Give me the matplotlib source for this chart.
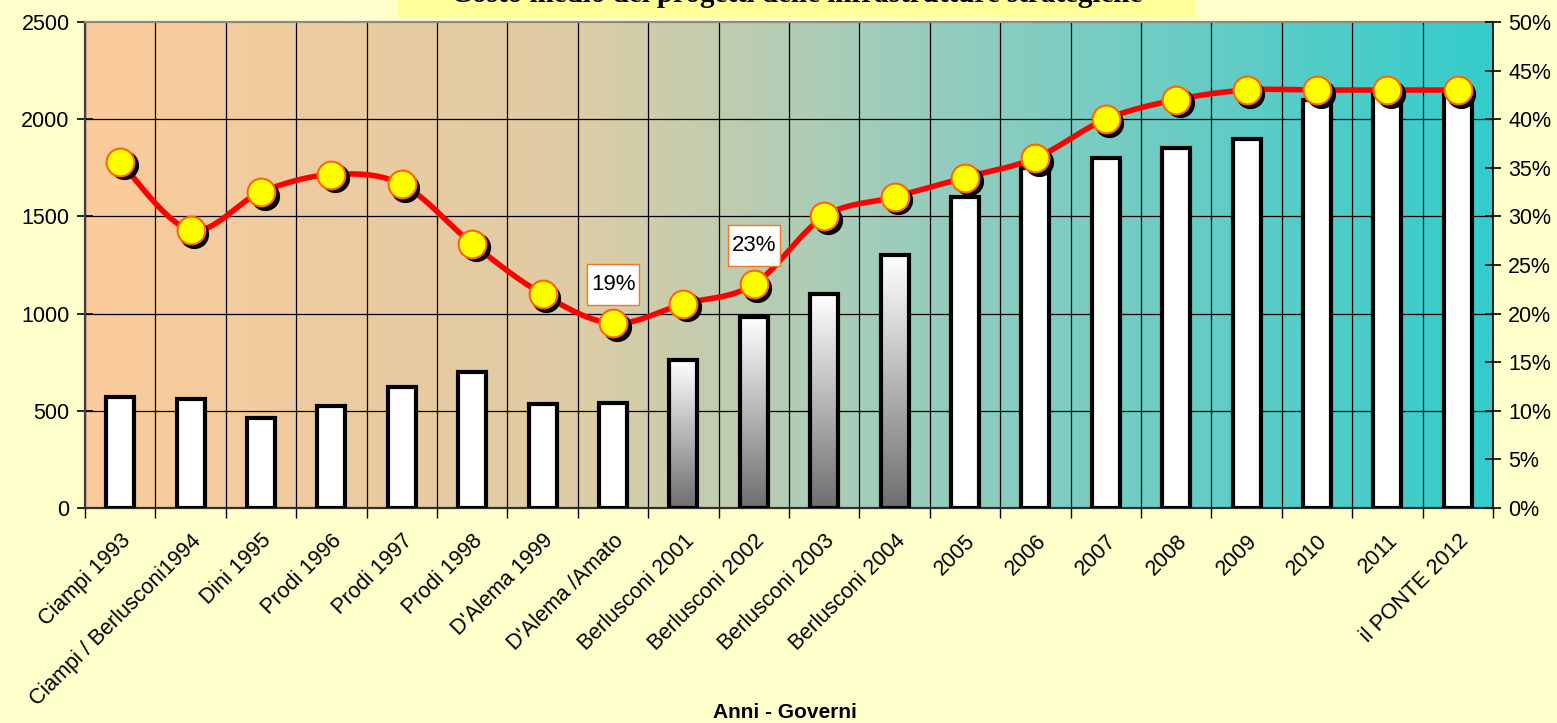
import numpy as np
import matplotlib
matplotlib.use('Agg')
import matplotlib.pyplot as plt
from matplotlib.transforms import offset_copy, IdentityTransform
from matplotlib.colors import LinearSegmentedColormap
from matplotlib.patches import Rectangle

# ---------------- data ----------------
categories = ['Ciampi 1993', 'Ciampi / Berlusconi1994', 'Dini 1995', 'Prodi 1996',
              'Prodi 1997', 'Prodi 1998', "D'Alema 1999", "D'Alema /Amato",
              'Berlusconi 2001', 'Berlusconi 2002', 'Berlusconi 2003', 'Berlusconi 2004',
              '2005', '2006', '2007', '2008', '2009', '2010', '2011', 'il PONTE 2012']
projects = [570, 560, 465, 525, 625, 700, 535, 540, 760, 985, 1100, 1300,
            1600, 1750, 1800, 1850, 1900, 2100, 2130, 2130]
share_pct = [35.6, 28.6, 32.5, 34.3, 33.3, 27.2, 22.0, 19.0, 21.0, 23.0, 30.0, 32.0,
             34.0, 36.0, 40.0, 42.0, 43.0, 43.0, 43.0, 43.0]
gradient_bar_idx = [8, 9, 10, 11]
labelled_idx = [7, 9]
left_ticks = [0, 500, 1000, 1500, 2000, 2500]
right_ticks = [0, 5, 10, 15, 20, 25, 30, 35, 40, 45, 50]
title_text = 'Costo medio dei progetti delle infrastrutture strategiche'
xlabel_text = 'Anni - Governi'

FONT = 'Liberation Sans'
W, H = 1557, 723
fig = plt.figure(figsize=(W / 100, H / 100), dpi=100)
fig.patch.set_facecolor('#FFFFCC')

L, R, T, B = 85, 1493, 22, 508
ax = fig.add_axes([L / W, 1 - B / H, (R - L) / W, (B - T) / H])
n = len(categories)
x = np.arange(n)
ax.set_xlim(-0.5, n - 0.5)
ax.set_ylim(0, 2500)

# background gradient (peach -> teal)
bg_cmap = LinearSegmentedColormap.from_list('bg', [
    (0.0, (252/255, 203/255, 155/255)),
    (0.35, (222/255, 204/255, 165/255)),
    (0.6, (150/255, 205/255, 190/255)),
    (1.0, (51/255, 204/255, 204/255))])
grad = np.linspace(0, 1, 512).reshape(1, -1)
ax.imshow(grad, extent=[-0.5, n - 0.5, 0, 2500], aspect='auto', cmap=bg_cmap,
          zorder=0, interpolation='bicubic')

# grid lines
for b in np.arange(n + 1) - 0.5:
    ax.axvline(b, color='black', lw=0.9, zorder=1)
for v in left_ticks[1:-1]:
    ax.axhline(v, color='black', lw=0.9, zorder=1)

# bars
bw = 0.4
bar_cmap = LinearSegmentedColormap.from_list('bar', ['#6e6e6e', '#ffffff'])
vgrad = np.linspace(0, 1, 256).reshape(-1, 1)
for i, v in enumerate(projects):
    if i in gradient_bar_idx:
        rect = Rectangle((x[i] - bw / 2, 0), bw, v, facecolor='none',
                         edgecolor='black', lw=3, zorder=3)
        ax.add_patch(rect)
        im = ax.imshow(vgrad, extent=[x[i] - bw / 2, x[i] + bw / 2, 0, v],
                       origin='lower', aspect='auto', cmap=bar_cmap, zorder=2.5)
        im.set_clip_path(rect)
    else:
        ax.bar(x[i], v, width=bw, color='white', edgecolor='black', lw=3, zorder=3)
ax.set_xlim(-0.5, n - 0.5)
ax.set_ylim(0, 2500)

# axes styling
ax.set_yticks(left_ticks)
ax.set_yticklabels([str(v) for v in left_ticks], fontsize=15.5, family=FONT)
ax.tick_params(axis='y', direction='inout', length=12, width=1.2, pad=5)
ax.set_xticks(x)
ax.set_xticklabels(categories, rotation=45, ha='right', rotation_mode='anchor',
                   fontsize=15.5, family=FONT)
ax.tick_params(axis='x', which='major', length=0, pad=16)
ax.set_xticks(np.arange(n + 1) - 0.5, minor=True)
ax.tick_params(axis='x', which='minor', direction='out', length=7, width=1)
ax.spines['left'].set_color('#404040')
ax.spines['left'].set_linewidth(1.6)
ax.spines['bottom'].set_color('#303030')
ax.spines['bottom'].set_linewidth(1.6)
ax.spines['top'].set_color('#8a8a8a')
ax.spines['top'].set_linewidth(1.6)
ax.spines['right'].set_color('black')
ax.spines['right'].set_linewidth(1.2)

# secondary axis with smoothed line
ax2 = ax.twinx()
ax2.set_ylim(0, 50)
ax2.set_xlim(-0.5, n - 0.5)
ax2.set_yticks(right_ticks)
ax2.set_yticklabels([f'{v}%' for v in right_ticks], fontsize=15.5, family=FONT)
ax2.tick_params(axis='y', direction='inout', length=12, width=1.2, pad=5)
for s in ax2.spines.values():
    s.set_visible(False)

def catmull_rom(xs, ys, steps=30):
    xs = np.asarray(xs, float); ys = np.asarray(ys, float)
    px = np.concatenate([[xs[0]], xs, [xs[-1]]])
    py = np.concatenate([[ys[0]], ys, [ys[-1]]])
    ox, oy = [], []
    t = np.linspace(0, 1, steps)
    for k in range(1, len(px) - 2):
        for arr, out in ((px, ox), (py, oy)):
            p0, p1, p2, p3 = arr[k - 1], arr[k], arr[k + 1], arr[k + 2]
            out.extend(0.5 * (2 * p1 + (-p0 + p2) * t +
                              (2 * p0 - 5 * p1 + 4 * p2 - p3) * t ** 2 +
                              (-p0 + 3 * p1 - 3 * p2 + p3) * t ** 3))
    return np.array(ox), np.array(oy)

sx, sy = catmull_rom(x, share_pct)
ax2.plot(sx, sy, color='#FF0000', lw=4, zorder=4, solid_capstyle='round')
shadow_tr = offset_copy(ax2.transData, fig=fig, x=3.5, y=-3.5, units='dots')
ax2.plot(x, share_pct, 'o', ms=20, color='black', mec='black', transform=shadow_tr, zorder=5)
ax2.plot(x, share_pct, 'o', ms=20, color='#FFFF00', mec='#FF6600', mew=1.5, zorder=6)

# data labels in boxes (52 x 41 px, centred 39 px above the point)
for i in labelled_idx:
    px_, py_ = ax2.transData.transform((x[i], share_pct[i]))
    box = Rectangle((px_ - 26, py_ + 39 - 20.5), 52, 41, transform=IdentityTransform(),
                    facecolor='white', edgecolor='#F07828', lw=1, zorder=7)
    fig.patches.append(box)
    fig.text(px_ / W, (py_ + 39) / H, f'{share_pct[i]:.0f}%', ha='center', va='center',
             fontsize=16, family=FONT, zorder=8)

# title box (cut off at top, as in the original)
fig.patches.append(Rectangle((398 / W, 1 - 17 / H), (1195 - 398) / W, 17 / H,
                             transform=fig.transFigure, facecolor='#FFFF99',
                             edgecolor='none', zorder=0))
fig.text(797 / W, 1 - 2 / H, title_text, ha='center', va='baseline',
         fontsize=21, fontweight='bold', family='Liberation Serif')

fig.text(785 / W, 1 - 712 / H, xlabel_text, ha='center', va='center',
         fontsize=15, fontweight='bold', family=FONT)

fig.savefig('out.png', dpi=100, facecolor=fig.get_facecolor())
